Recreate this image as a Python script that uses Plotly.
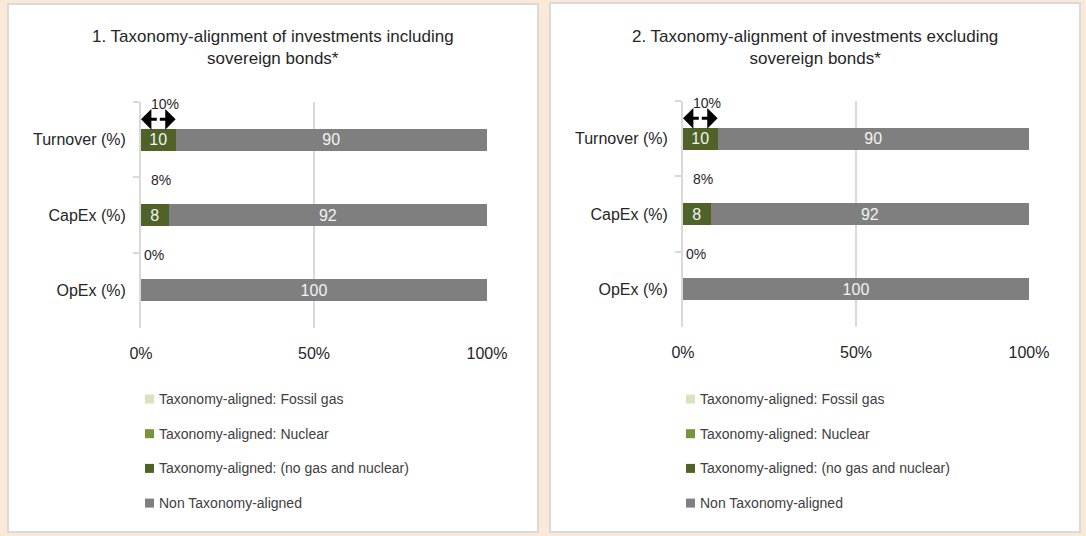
import plotly.graph_objects as go

categories = ["Turnover (%)", "CapEx (%)", "OpEx (%)"]
series_names = [
    "Taxonomy-aligned: Fossil gas",
    "Taxonomy-aligned: Nuclear",
    "Taxonomy-aligned: (no gas and nuclear)",
    "Non Taxonomy-aligned",
]
series_colors = ["#D7E4BD", "#77933C", "#4F6228", "#7F7F7F"]

# Chart 1: including sovereign bonds
incl_fossil = [0, 0, 0]
incl_nuclear = [0, 0, 0]
incl_aligned = [10, 8, 0]
incl_non = [90, 92, 100]

# Chart 2: excluding sovereign bonds
excl_fossil = [0, 0, 0]
excl_nuclear = [0, 0, 0]
excl_aligned = [10, 8, 0]
excl_non = [90, 92, 100]

titles = [
    "1. Taxonomy-alignment of investments including<br>sovereign bonds*",
    "2. Taxonomy-alignment of investments excluding<br>sovereign bonds*",
]
x_ticks = [0, 50, 100]
x_tick_labels = ["0%", "50%", "100%"]

W, H = 1086, 536
FONT = "Liberation Sans, Arial, sans-serif"
TXT = "#262626"

def px(x):
    return x / W

def py(y):
    return 1 - y / H

fig = go.Figure()

panels = [
    dict(data=[incl_fossil, incl_nuclear, incl_aligned, incl_non],
         xa="x", ya="y", xdom=[px(141), px(487)], ydom=[py(328), py(102)],
         box=(8, 4, 538, 532), legx=145, textx=157),
    dict(data=[excl_fossil, excl_nuclear, excl_aligned, excl_non],
         xa="x2", ya="y2", xdom=[px(683), px(1029)], ydom=[py(327), py(101)],
         box=(550, 3, 1080, 532), legx=686, textx=698),
]

shapes = []
annotations = []

for pi, p in enumerate(panels):
    x0, y0, x1, y1 = p["box"]
    shapes.append(dict(type="rect", xref="paper", yref="paper",
                       x0=px(x0), x1=px(x1), y0=py(y1), y1=py(y0),
                       fillcolor="white", line=dict(color="#D9D9D9", width=2),
                       layer="below"))
    for si, (name, color) in enumerate(zip(series_names, series_colors)):
        vals = p["data"][si]
        fig.add_trace(go.Bar(
            y=categories, x=vals, orientation="h", name=name,
            marker=dict(color=color, line=dict(width=0)),
            text=[str(v) if v else "" for v in vals],
            textposition="inside", insidetextanchor="middle", textangle=0,
            constraintext="none",
            textfont=dict(color="#F2F2F2", size=16, family=FONT),
            xaxis=p["xa"], yaxis=p["ya"], showlegend=False,
            hoverinfo="name+x",
        ))
    # title
    annotations.append(dict(xref="paper", yref="paper", x=px((x0 + x1) / 2), y=py(47),
                            text=titles[pi], showarrow=False, xanchor="center", yanchor="middle",
                            font=dict(size=17, color=TXT, family=FONT)))
    # total aligned labels
    aligned_tot = [a + b + c for a, b, c in zip(*p["data"][:3])]
    for ci, tot in enumerate(aligned_tot):
        annotations.append(dict(xref=p["xa"], yref=p["ya"],
                                x=(2.2 if tot else 0.4), y=ci - 0.47,
                                text=f"{tot}%", showarrow=False, xanchor="left", yanchor="middle",
                                font=dict(size=14, color=TXT, family=FONT)))
    # double arrow over the first aligned segment
    first = aligned_tot[0]
    for a_from, a_to in [(first / 2, first), (first / 2, 0)]:
        annotations.append(dict(xref=p["xa"], yref=p["ya"], axref=p["xa"], ayref=p["ya"],
                                x=a_to, y=-0.27, ax=a_from, ay=-0.27, text="",
                                showarrow=True, arrowhead=1, arrowsize=1.15, arrowwidth=3,
                                arrowcolor="black", standoff=0, startstandoff=0))
    shapes.append(dict(type="line", xref=p["xa"], yref=p["ya"],
                       x0=first / 2, x1=first / 2, y0=-0.36, y1=-0.18,
                       line=dict(color="white", width=1.5, dash="dot")))
    # legend
    for si, (name, color) in enumerate(zip(series_names, series_colors)):
        ry = 399 + si * 34.7
        shapes.append(dict(type="rect", xref="paper", yref="paper",
                           x0=px(p["legx"]), x1=px(p["legx"] + 9),
                           y0=py(ry + 4.5), y1=py(ry - 4.5),
                           fillcolor=color, line=dict(width=0)))
        annotations.append(dict(xref="paper", yref="paper", x=px(p["textx"]), y=py(ry),
                                text=name, showarrow=False, xanchor="left", yanchor="middle",
                                font=dict(size=14, color="#404040", family=FONT)))

axis_common_x = dict(range=[0, 100], tickvals=x_ticks, ticktext=x_tick_labels,
                     showgrid=True, gridcolor="#D9D9D9", gridwidth=2,
                     zeroline=False, showline=False, ticks="",
                     tickfont=dict(size=16, color=TXT, family=FONT),
                     ticklabelstandoff=14, fixedrange=True, automargin=False)
axis_common_y = dict(range=[2.5, -0.5], type="category", autorange=False,
                     showline=True, linecolor="#D9D9D9", linewidth=2,
                     ticks="outside", tickson="boundaries", ticklen=6,
                     tickcolor="#D9D9D9", tickwidth=2,
                     showgrid=False, zeroline=False,
                     tickfont=dict(size=16, color=TXT, family=FONT),
                     ticklabelstandoff=10, fixedrange=True, automargin=False)

fig.update_layout(
    template="none",
    width=W, height=H,
    margin=dict(l=0, r=0, t=0, b=0, pad=0),
    paper_bgcolor="#FBE9D8", plot_bgcolor="rgba(0,0,0,0)",
    barmode="stack", bargap=0.71,
    showlegend=False,
    xaxis=dict(domain=panels[0]["xdom"], anchor="y", **axis_common_x),
    yaxis=dict(domain=panels[0]["ydom"], anchor="x", **axis_common_y),
    xaxis2=dict(domain=panels[1]["xdom"], anchor="y2", **axis_common_x),
    yaxis2=dict(domain=panels[1]["ydom"], anchor="x2", **axis_common_y),
    shapes=shapes, annotations=annotations,
    font=dict(family=FONT, color=TXT),
)

fig.write_html(
    "out.html",
    config={"displayModeBar": False},
    post_script="document.body.style.margin='0';document.body.style.overflow='hidden';",
)
